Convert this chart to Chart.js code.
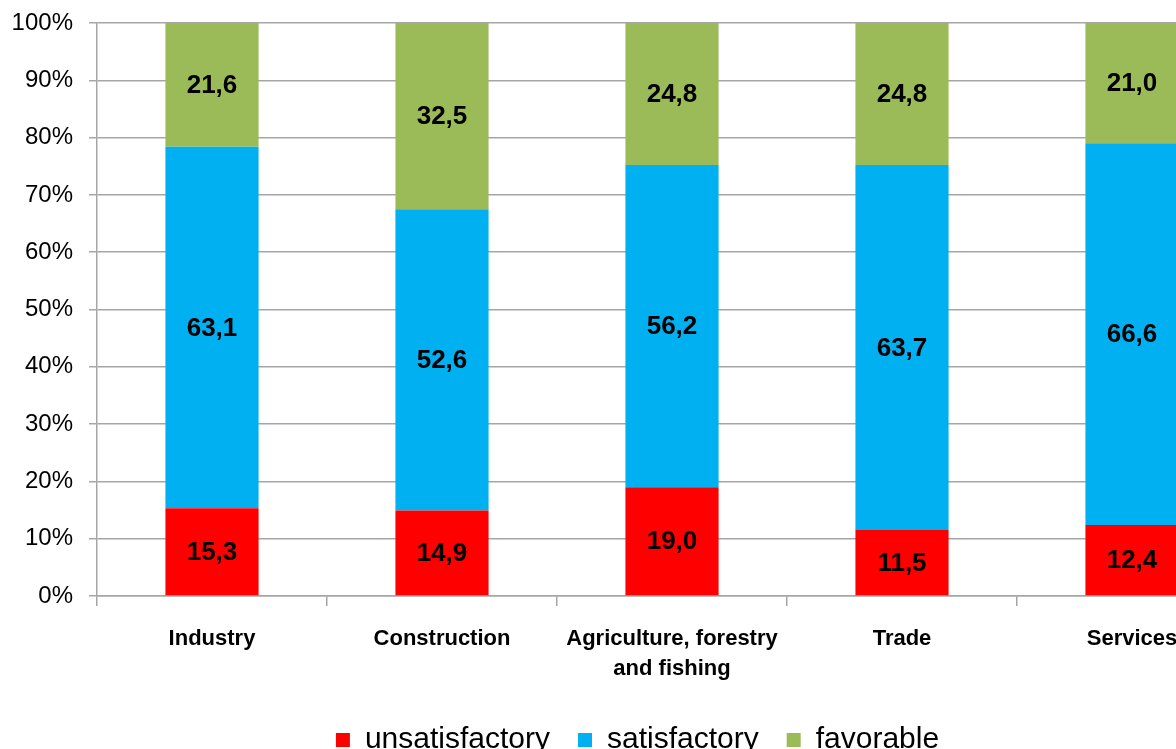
<!DOCTYPE html>
<html>
<head>
<meta charset="utf-8">
<script src="https://cdn.jsdelivr.net/npm/chart.js@4/dist/chart.umd.min.js"></script>
<style>
  html, body { margin: 0; padding: 0; background: #fff; overflow: hidden; }
  #wrap { width: 1272px; height: 749px; position: relative; }
</style>
</head>
<body>
<div id="wrap"><canvas id="chart"></canvas></div>
<script>
const categories = ['Industry', 'Construction', ['Agriculture, forestry', 'and fishing'], 'Trade', 'Services'];
const unsatisfactory = [15.3, 14.9, 19.0, 11.5, 12.4];
const satisfactory = [63.1, 52.6, 56.2, 63.7, 66.6];
const favorable = [21.6, 32.5, 24.8, 24.8, 21.0];
const yTicks = [0, 10, 20, 30, 40, 50, 60, 70, 80, 90, 100];

const GRID = '#a6a6a6';

// writes the value in the middle of every stacked segment
const segmentLabels = {
  id: 'segmentLabels',
  afterDatasetsDraw(chart) {
    const ctx = chart.ctx;
    ctx.save();
    ctx.font = 'bold 26px "Liberation Sans", Arial, sans-serif';
    ctx.fillStyle = '#000';
    ctx.textAlign = 'center';
    ctx.textBaseline = 'middle';
    chart.data.datasets.forEach((ds, i) => {
      chart.getDatasetMeta(i).data.forEach((bar, j) => {
        const v = ds.data[j];
        ctx.fillText(v.toFixed(1).replace('.', ','), bar.x, (bar.y + bar.base) / 2 + 1);
      });
    });
    ctx.restore();
  }
};

// legend in the original sits a bit right of the canvas centre
const legendNudge = {
  id: 'legendNudge',
  afterLayout(chart) {
    chart.legend.left += 14;
    chart.legend.right += 14;
  }
};

new Chart(document.getElementById('chart'), {
  type: 'bar',
  data: {
    labels: categories,
    datasets: [
      { label: 'unsatisfactory', data: unsatisfactory, backgroundColor: '#ff0000' },
      { label: 'satisfactory', data: satisfactory, backgroundColor: '#00b0f0' },
      { label: 'favorable', data: favorable, backgroundColor: '#9bbb59' }
    ]
  },
  options: {
    responsive: true, maintainAspectRatio: false, animation: false,
    devicePixelRatio: 1,
    layout: { padding: { top: 23, right: 25, left: 0, bottom: 0 } },
    datasets: { bar: { categoryPercentage: 1, barPercentage: 0.405 } },
    scales: {
      x: {
        stacked: true,
        afterFit(scale) { scale.height = 101; },
        border: { display: true, color: GRID, width: 1.5 },
        grid: { display: true, offset: true, drawOnChartArea: false, drawTicks: true, tickLength: 10, color: GRID, lineWidth: 1.5 },
        ticks: {
          color: '#000', padding: 18, maxRotation: 0, autoSkip: false,
          font: { family: '"Liberation Sans", Arial, sans-serif', size: 22, weight: 'bold', lineHeight: 1.35 }
        }
      },
      y: {
        stacked: true, min: 0, max: 100,
        afterFit(scale) { scale.width = 97; scale.paddingTop = 0; scale.paddingBottom = 0; },
        afterBuildTicks(scale) { scale.ticks = yTicks.map(v => ({ value: v })); },
        border: { display: true, color: GRID, width: 1.5 },
        grid: { color: GRID, lineWidth: 1.5, tickLength: 8 },
        ticks: {
          color: '#000', padding: 16,
          font: { family: '"Liberation Sans", Arial, sans-serif', size: 24 },
          callback: v => v + '%'
        }
      }
    },
    plugins: {
      tooltip: { enabled: false },
      legend: {
        position: 'bottom',
        maxHeight: 52,
        labels: {
          color: '#000', boxWidth: 14, boxHeight: 14, padding: 28,
          font: { family: '"Liberation Sans", Arial, sans-serif', size: 30 }
        }
      }
    }
  },
  plugins: [segmentLabels, legendNudge]
});
</script>
</body>
</html>
